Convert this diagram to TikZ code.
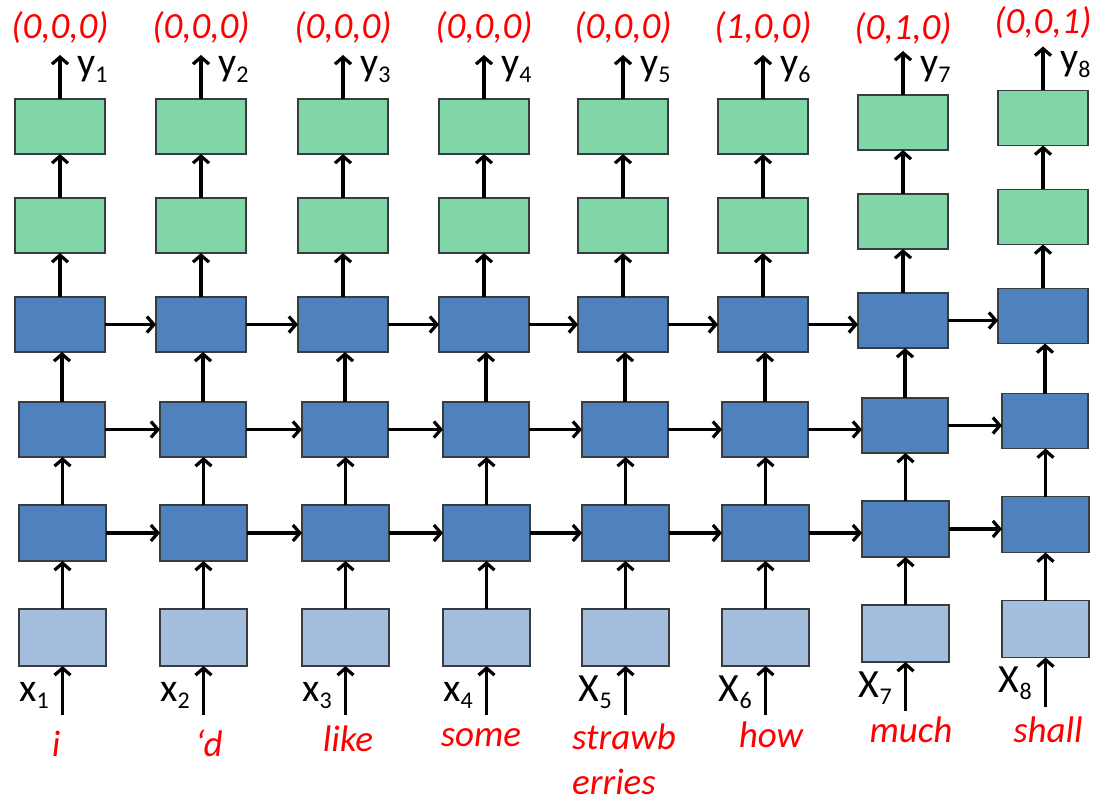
\documentclass[tikz,border=0pt]{standalone}
\usepackage{fontspec}
\setmainfont{Carlito}
\usetikzlibrary{arrows.meta}
\definecolor{gfill}{RGB}{128,214,166}
\definecolor{bfill}{RGB}{79,129,189}
\definecolor{lfill}{RGB}{166,190,222}
\definecolor{bordc}{RGB}{55,60,65}
\newcommand\sbs[1]{\raisebox{-7pt}{\fontsize{24}{24}\selectfont #1}}
\begin{document}
\begin{tikzpicture}[x=1pt,y=-1pt,
  box/.style={draw=bordc, line width=1.5pt, inner sep=0pt, outer sep=0pt, anchor=north west, minimum height=55pt},
  wbox/.style={box, minimum width=90pt},
  nbox/.style={box, minimum width=86pt},
  gbox/.style={wbox, fill=gfill},
  bboxw/.style={wbox, fill=bfill},
  bboxn/.style={nbox, fill=bfill},
  lbox/.style={nbox, fill=lfill, minimum width=87pt, minimum height=57pt},
  arr/.style={line width=3.2pt, -{Straight Barb[length=7pt,width=16pt]}},
  vec/.style={text=red, font=\fontsize{37}{42}\selectfont\itshape, inner sep=0pt},
  word/.style={text=red, font=\fontsize{37}{45}\selectfont\itshape, inner sep=0pt},
  lab/.style={font=\fontsize{40}{44}\selectfont, inner sep=0pt}]
\useasboundingbox (0,0) rectangle (1103,802);
\foreach \i/\L/\dy/\out/\oy/\ly/\xl in {1/15/0/{(0,0,0)}/28/76/x,2/156/0/{(0,0,0)}/28/76/x,3/298/0/{(0,0,0)}/28/76/x,4/439/0/{(0,0,0)}/28/76/x,5/578/0/{(0,0,0)}/28/76/X,6/718/0/{(1,0,0)}/28/76/X,7/858/-4/{(0,1,0)}/29/76/X,8/998/-8.5/{(0,0,1)}/23/71/X}{
  \node[gbox] (G1-\i) at (\L,99+\dy) {};
  \node[gbox] (G2-\i) at (\L,198+\dy) {};
  \node[bboxw] (B3-\i) at (\L,297+\dy) {};
  \node[bboxn] (B2-\i) at (\L+4,402+\dy) {};
  \node[bboxn, minimum width=87pt, minimum height=56pt] (B1-\i) at (\L+4,505+\dy) {};
  \node[lbox] (In-\i) at (\L+4,609+\dy) {};
  \coordinate (top-\i) at (\L+45,55+\dy);
  \coordinate (bot-\i) at (\L+47.5,715+\dy);
  \draw[arr] (G1-\i.north) -- (top-\i);
  \draw[arr] (G2-\i.north) -- (G1-\i.south);
  \draw[arr] (B3-\i.north) -- (G2-\i.south);
  \draw[arr] (B2-\i.north) -- (B2-\i.north |- B3-\i.south);
  \draw[arr] (B1-\i.north) -- (B1-\i.north |- B2-\i.south);
  \draw[arr] (In-\i.north) -- (In-\i.north |- B1-\i.south);
  \draw[arr] (bot-\i) -- (In-\i.south);
  \node[vec] (o-\i) at (\L+45,\oy) {\out};
  \node[lab, anchor=base west] (y-\i) at (\L+62,\ly) {y\sbs{\i}};
  \node[lab, anchor=base east] (x-\i) at (\L+34,701+\dy) {\xl\sbs{\i}};
}
\foreach \i in {1,...,7}{
  \pgfmathtruncatemacro\j{\i+1}
  \draw[arr] (B3-\i.east) -- (B3-\i.east -| B3-\j.west);
  \draw[arr] (B2-\i.east) -- (B2-\i.east -| B2-\j.west);
  \draw[arr] (B1-\i.east) -- (B1-\i.east -| B1-\j.west);
}
\node[word, anchor=base] (w1) at (56,756) {i};
\node[word, anchor=base] (w2) at (209,756) {‘d};
\node[word, anchor=base] (w3) at (348,751) {like};
\node[word, anchor=base] (w4) at (481,746) {some};
\node[word, anchor=base west, align=left] (w5) at (572,794) {strawb\\erries};
\node[word, anchor=base] (w6) at (771,747) {how};
\node[word, anchor=base] (w7) at (911,742) {much};
\node[word, anchor=base] (w8) at (1048,742) {shall};
\end{tikzpicture}
\end{document}
